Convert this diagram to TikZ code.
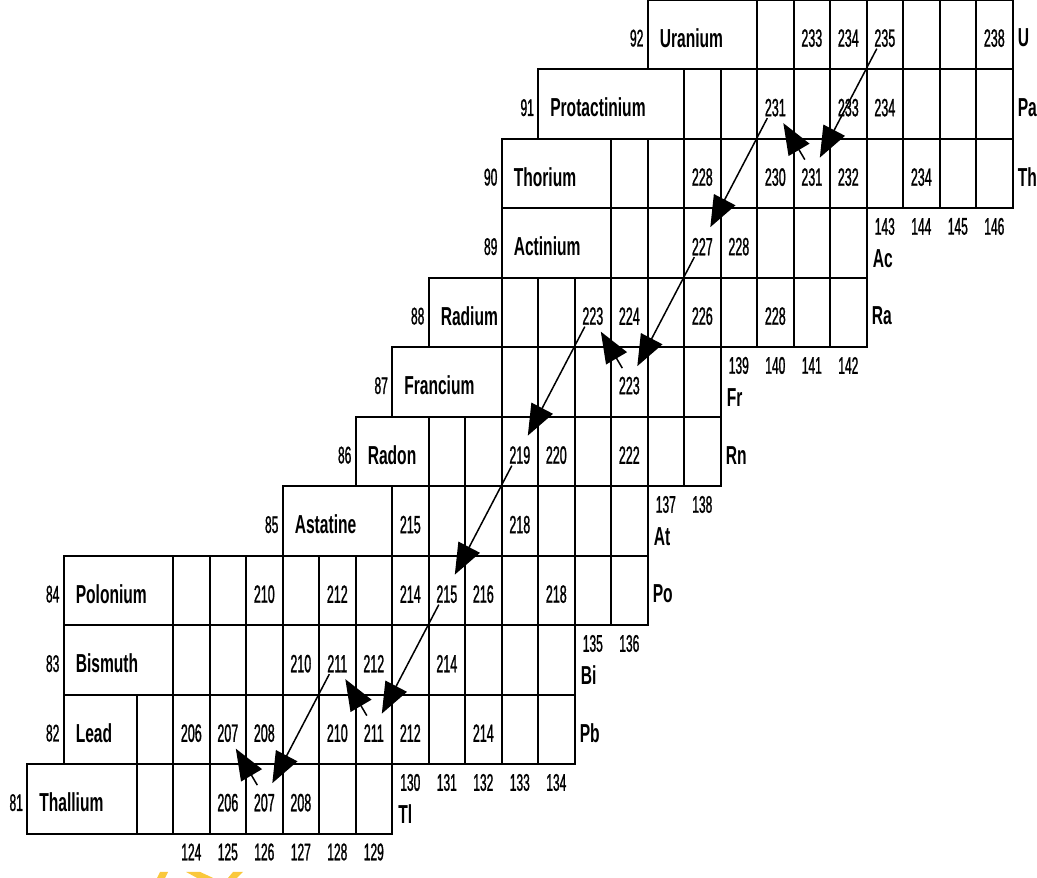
\documentclass[tikz,border=0pt]{standalone}
\usepackage{fontspec}
\setmainfont{Liberation Sans}[FakeStretch=0.6]
\newfontfamily\numfont{Liberation Sans}[FakeStretch=0.5, FakeBold=1]
\usetikzlibrary{arrows.meta}
\definecolor{wmark}{RGB}{250,200,60}

\begin{document}
\begin{tikzpicture}[
  x=36.5pt, y=69.5pt,
  grid/.style={line width=2pt},
  elname/.style={font=\fontsize{26}{30}\selectfont\bfseries, anchor=west, inner sep=0pt},
  isotope/.style={font=\numfont\fontsize{25}{28}\selectfont, inner sep=0pt},
  zlbl/.style={font=\numfont\fontsize{24}{26}\selectfont, anchor=east, inner sep=0pt},
  nlbl/.style={font=\numfont\fontsize{24}{26}\selectfont, inner sep=0pt},
  symlbl/.style={font=\fontsize{26}{30}\selectfont\bfseries, anchor=west, inner sep=0pt},
  decay/.style={line width=1.5pt, -{Triangle[length=31pt, width=24pt]}},
]
  \useasboundingbox (119.26,80.367) rectangle (147.671,93);

  % rows: Z / element / left of name box / first cell N / last cell N
  \foreach \z/\name/\lft/\first/\last in {
    92/Uranium/137/140/146,
    91/Protactinium/134/138/146,
    90/Thorium/133/136/146,
    89/Actinium/133/136/142,
    88/Radium/131/133/142,
    87/Francium/130/133/138,
    86/Radon/129/131/138,
    85/Astatine/127/130/136,
    84/Polonium/121/124/136,
    83/Bismuth/121/124/134,
    82/Lead/121/123/134,
    81/Thallium/120/123/129%
  }{
    \draw[grid] (\lft,\z) rectangle (\last+1,\z+1);
    \foreach \n in {\first,...,\last}
      \draw[grid] (\n,\z) -- (\n,\z+1);
    \node[zlbl] (z\z) at ([xshift=-4pt]\lft,\z+0.45) {\z};
    \node[elname] (el\z) at ([xshift=12pt]\lft,\z+0.45) {\name};
  }

  % isotopes: Z / neutron numbers, mass number A = Z + N
  \foreach \z/\ns in {
    92/{141,142,143,146},
    91/{140,142,143},
    90/{138,140,141,142,144},
    89/{138,139},
    88/{135,136,138,140},
    87/{136},
    86/{133,134,136},
    85/{130,133},
    84/{126,128,130,131,132,134},
    83/{127,128,129,131},
    82/{124,125,126,128,129,130,132},
    81/{125,126,127}%
  }{
    \foreach \n in \ns {
      \pgfmathtruncatemacro\a{\z+\n}
      \node[isotope] (a\a z\z) at (\n+0.5,\z+0.45) {\a};
    }
  }

  % symbols at the row ends
  \foreach \s/\z/\n in {U/92/147, Pa/91/147, Th/90/147, Ra/88/143,
                        Rn/86/139, Po/84/137, Pb/82/135}
    \node[symlbl] (sym\s) at ([xshift=5pt]\n,\z+0.45) {\s};

  % neutron numbers with the symbol below
  \foreach \s/\z/\first/\last in {Ac/89/143/146, Fr/87/139/142,
                                  At/85/137/138, Bi/83/135/136, Tl/81/130/134}{
    \node[symlbl] (sym\s) at ([xshift=6pt]\first,\z+0.28) {\s};
    \foreach \n in {\first,...,\last}
      \node[nlbl] (n\n) at (\n+0.5,\z+0.74) {\n};
  }
  \foreach \n in {124,...,129}
    \node[nlbl] (n\n) at (\n+0.5,80.74) {\n};

  % alpha decays
  \foreach \p/\d in {a235z92/a231z90, a231z91/a227z89, a227z89/a223z87,
                     a223z88/a219z86, a219z86/a215z84, a215z84/a211z82,
                     a211z83/a207z81}
    \draw[decay] ([shift={(-8pt,-10.5pt)}]\p.center) -- ([shift={(8pt,19.5pt)}]\d.center);

  % beta decays
  \foreach \p/\d in {a231z90/a231z91, a223z87/a223z88, a211z82/a211z83,
                     a207z81/a207z82}
    \draw[decay] ([shift={(-7pt,17.5pt)}]\p.center) -- ([shift={(8pt,-15.5pt)}]\d.center);

  % watermark at the lower edge
  \begin{scope}[shift={(119.26,93)}, x=1pt, y=-1pt]
    \fill[wmark] (157,878) -- (160,872) -- (168,872) -- (165,878) -- cycle;
    \fill[wmark] (186,872) -- (200,872) -- (213,878) -- (197,878) -- cycle;
    \fill[wmark] (228,878) -- (233,872) -- (243,872) -- (237,878) -- cycle;
  \end{scope}
\end{tikzpicture}
\end{document}
